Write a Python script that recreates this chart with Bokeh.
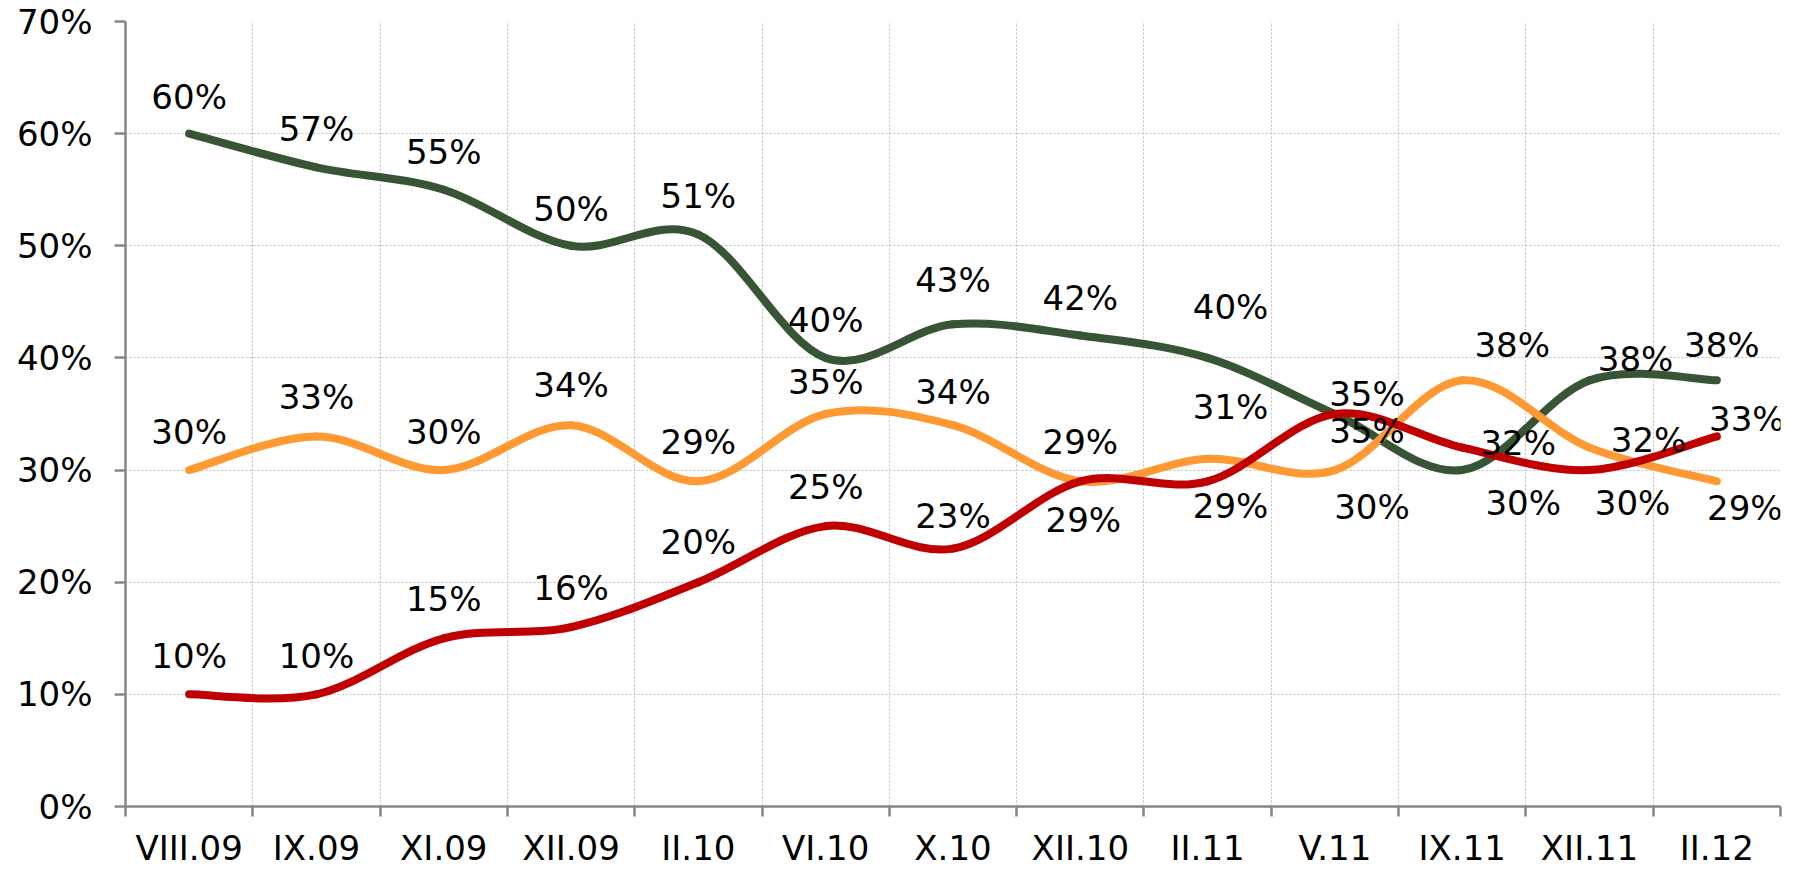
from bokeh.plotting import figure
from bokeh.models import Range1d, FixedTicker, PrintfTickFormatter, ColumnDataSource
from bokeh.embed import file_html
from bokeh.resources import INLINE
from bokeh.core.properties import value

# ---- data ----
categories = ["VIII.09", "IX.09", "XI.09", "XII.09", "II.10", "VI.10", "X.10",
              "XII.10", "II.11", "V.11", "IX.11", "XII.11", "II.12"]
green = [60, 57, 55, 50, 51, 40, 43, 42, 40, 35, 30, 38, 38]
orange = [30, 33, 30, 34, 29, 35, 34, 29, 31, 30, 38, 32, 29]
red = [10, 10, 15, 16, 20, 25, 23, 29, 29, 35, 32, 30, 33]
y_ticks = [0, 10, 20, 30, 40, 50, 60, 70]

# ---- label placement (screen px) ----
green_dx = [0, 0, 0, 0, 0, 0, 0, 0, 23, 32, 61, 46, 5]
green_dy = [-37, -38, -38, -37, -39, -38, -44, -38, -51, 17, 33, -21, -35]
orange_dx = [0, 0, 0, 0, 0, 0, 0, 0, 23, 37, 50, 59, 28]
orange_dy = [-38, -39, -38, -40, -39, -32, -33, -39, -52, 37, -35, -8, 27]
red_dx = [0, 0, 0, 0, 0, 0, 0, 3, 23, 32, 56, 43, 30]
red_dy = [-38, -38, -39, -39, -40, -39, -33, 39, 25, -20, -5, 33, -17]

GREEN = "#375534"
ORANGE = "#FF9933"
RED = "#C00000"
AXIS = "#868686"
GRID = "#BFBFBF"
FONT = "DejaVu Sans"
FS = "34px"

n = len(categories)
centers = [i + 0.5 for i in range(n)]
bounds = list(range(n + 1))

p = figure(width=1807, height=870, output_backend="svg", toolbar_location=None,
           x_range=Range1d(0, n), y_range=Range1d(0, 70),
           min_border_left=125, min_border_right=27, min_border_top=21,
           min_border_bottom=64)
p.outline_line_color = None
p.background_fill_color = "white"
p.border_fill_color = "white"


def smooth_source(xs, ys):
    d = {k: [] for k in ("x0", "y0", "x1", "y1", "cx0", "cy0", "cx1", "cy1")}
    m = len(xs)
    for i in range(m - 1):
        a = max(i - 1, 0)
        b = min(i + 2, m - 1)
        d["x0"].append(xs[i]); d["y0"].append(ys[i])
        d["x1"].append(xs[i + 1]); d["y1"].append(ys[i + 1])
        d["cx0"].append(xs[i] + (xs[i + 1] - xs[a]) / 6.0)
        d["cy0"].append(ys[i] + (ys[i + 1] - ys[a]) / 6.0)
        d["cx1"].append(xs[i + 1] - (xs[b] - xs[i]) / 6.0)
        d["cy1"].append(ys[i + 1] - (ys[b] - ys[i]) / 6.0)
    return ColumnDataSource(d)


for vals, col in ((green, GREEN), (orange, ORANGE), (red, RED)):
    p.bezier(x0="x0", y0="y0", x1="x1", y1="y1", cx0="cx0", cy0="cy0",
             cx1="cx1", cy1="cy1", source=smooth_source(centers, vals),
             line_color=col, line_width=8, line_cap="round")

for vals, dx, dy in ((green, green_dx, green_dy), (orange, orange_dx, orange_dy),
                     (red, red_dx, red_dy)):
    src = ColumnDataSource(dict(x=centers, y=vals, t=[f"{v}%" for v in vals],
                                dx=dx, dy=dy))
    p.text(x="x", y="y", text="t", x_offset="dx", y_offset="dy", source=src,
           text_align="center", text_baseline="middle",
           text_font=value(FONT), text_font_size=FS, text_color="black")

# x axis
p.xaxis.ticker = FixedTicker(ticks=centers, minor_ticks=bounds)
p.xaxis.major_label_overrides = {c: lab for c, lab in zip(centers, categories)}
p.xaxis.major_tick_line_color = None
p.xaxis.major_tick_out = 0
p.xaxis.major_tick_in = 0
p.xaxis.minor_tick_out = 10
p.xaxis.minor_tick_in = 0
p.xaxis.minor_tick_line_color = AXIS
p.xaxis.minor_tick_line_width = 2.5
p.xaxis.axis_line_color = AXIS
p.xaxis.axis_line_width = 2.5
p.xaxis.major_label_text_font = FONT
p.xaxis.major_label_text_font_size = FS
p.xaxis.major_label_text_color = "black"
p.xaxis.major_label_standoff = 11

# y axis
p.yaxis.ticker = FixedTicker(ticks=y_ticks)
p.yaxis.formatter = PrintfTickFormatter(format="%d%%")
p.yaxis.major_tick_out = 11
p.yaxis.major_tick_in = 0
p.yaxis.major_tick_line_color = AXIS
p.yaxis.major_tick_line_width = 2.5
p.yaxis.minor_tick_line_color = None
p.yaxis.axis_line_color = AXIS
p.yaxis.axis_line_width = 2.5
p.yaxis.major_label_text_font = FONT
p.yaxis.major_label_text_font_size = FS
p.yaxis.major_label_text_color = "black"
p.yaxis.major_label_standoff = 22

# grids
p.xgrid.ticker = FixedTicker(ticks=bounds)
p.xgrid.grid_line_color = GRID
p.xgrid.grid_line_dash = "2 2"
p.xgrid.grid_line_width = 1
p.ygrid.grid_line_color = GRID
p.ygrid.grid_line_dash = "2 2"
p.ygrid.grid_line_width = 1

open("out.html", "w").write(file_html(p, INLINE))
